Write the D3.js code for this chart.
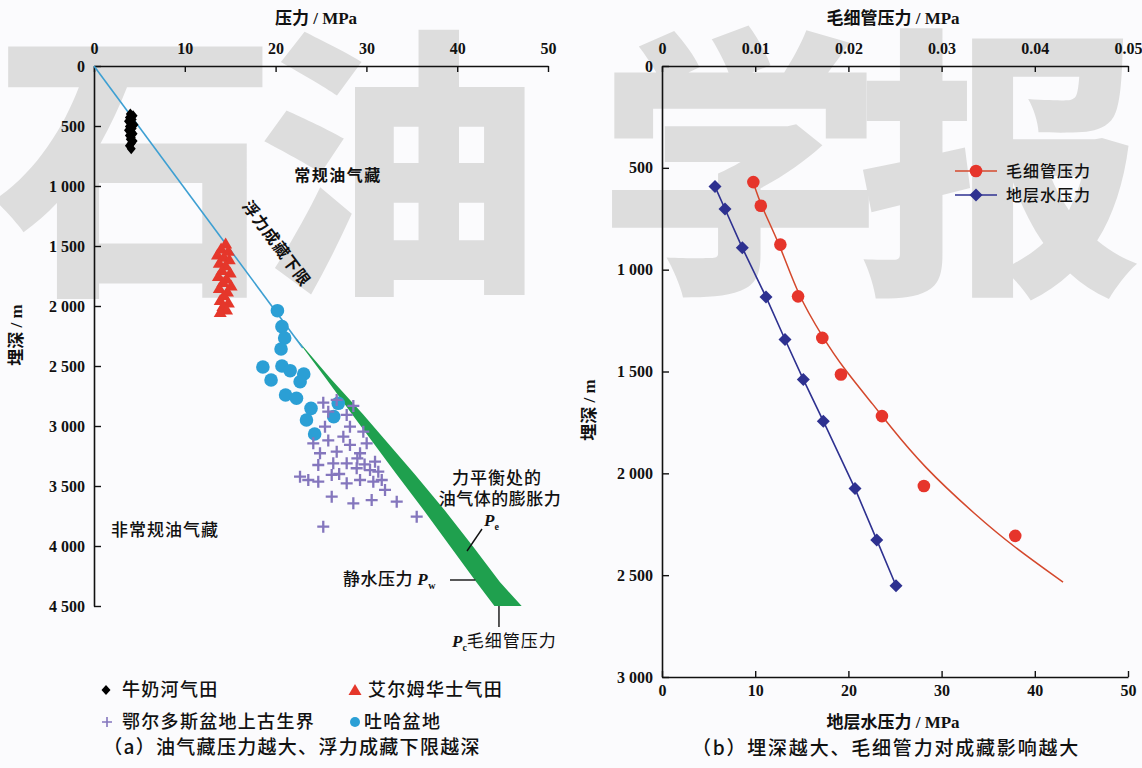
<!DOCTYPE html>
<html><head><meta charset="utf-8">
<script src="https://cdn.jsdelivr.net/npm/d3@7"></script>
<style>
html,body{margin:0;padding:0;background:#fbfbfd;}
svg{display:block;}
text{font-family:"Noto Sans CJK SC","Noto Sans",sans-serif;fill:#111;}
.num text,.num{font-family:"Liberation Serif","DejaVu Serif",serif;font-weight:bold;}
</style></head><body>
<svg id="c" width="1142" height="768"></svg>
<script>
// ---------- data ----------
const pressureTicks = [0, 10, 20, 30, 40, 50];
const depthTicksA = [0, 500, 1000, 1500, 2000, 2500, 3000, 3500, 4000, 4500];
const capTicks = [0, 0.01, 0.02, 0.03, 0.04, 0.05];
const waterTicks = [0, 10, 20, 30, 40, 50];
const depthTicksB = [0, 500, 1000, 1500, 2000, 2500, 3000];

// [pressure MPa, depth m]
const niunaihe = [[4.0,400],[4.3,415],[3.9,430],[4.2,445],[3.8,460],[4.1,475],[4.4,490],[3.9,505],[4.2,520],[3.8,535],[4.1,550],[4.3,565],[3.9,580],[4.1,595],[4.0,610],[4.3,625],[4.1,645],[3.9,665],[4.1,690]];
const aiermu = [[14.5,1480],[14.0,1520],[14.8,1540],[13.6,1570],[14.3,1590],[14.9,1610],[13.8,1640],[14.5,1660],[14.1,1700],[15.0,1720],[13.7,1750],[14.6,1770],[14.2,1800],[15.1,1830],[13.8,1850],[14.7,1880],[14.3,1910],[13.9,1950],[14.8,1970],[14.2,2000],[14.6,2030],[13.9,2050]];
const ordos = [[25.25,2806],[26.73,2783],[28.56,2833],[25.80,2881],[27.83,2908],[25.44,3006],[28.19,3006],[29.66,3047],[24.15,3144],[27.46,3089],[28.19,3158],[30.03,3144],[24.89,3227],[26.73,3214],[29.30,3227],[30.95,3297],[24.70,3325],[26.35,3311],[27.83,3311],[28.93,3352],[30.40,3367],[31.31,3381],[22.69,3422],[23.60,3450],[24.70,3464],[26.18,3408],[27.83,3478],[29.30,3450],[30.76,3464],[31.69,3450],[26.18,3589],[28.56,3644],[30.58,3617],[32.05,3533],[33.34,3631],[35.54,3756],[25.25,3839],[29.0,3270],[27.0,3400],[29.8,3320],[25.8,3120]];
const tuha = [[20.2,2039],[20.7,2172],[21.0,2267],[20.6,2358],[18.6,2508],[20.7,2500],[21.6,2539],[23.1,2567],[19.5,2617],[22.7,2631],[21.1,2742],[22.3,2769],[23.9,2853],[26.9,2811],[23.4,2950],[26.4,2922],[24.3,3067]];
const hydroLine = [[0,0],[23.0,2350]];
const wedgeDepth = [2250, 2600, 2900, 3400, 3700, 4000, 4300, 4500];
const wedgePw    = [22.05, 25.5, 28.4, 33.3, 36.3, 39.2, 42.1, 44.1];
const wedgePe    = [22.05, 26.0, 29.6, 35.3, 38.6, 41.7, 44.7, 47.1];

const capPressure = [0.0098,0.0106,0.0127,0.0146,0.0172,0.0192,0.0236,0.0281,0.0379];
const capDepth    = [570,686,877,1131,1335,1515,1719,2062,2307];
const capFitPressure = [0.00976,0.01062,0.01266,0.01459,0.01727,0.01931,0.02307,0.02414,0.0280,0.0338,0.03766,0.04303];
const capFitDepth    = [569,686,877,1127,1333,1475,1686,1750,1966,2211,2358,2534];
const waterPressure = [5.69,6.76,8.62,11.16,13.2,15.16,17.31,20.71,23.04,25.11];
const waterDepth    = [592,702,893,1134,1343,1539,1744,2075,2327,2552];

const watermark = ["石","油","学","报"];

// ---------- setup ----------
const svg = d3.select("#c");
const fmt = d3.formatLocale({decimal:".", thousands:" ", grouping:[3], currency:["",""]}).format(",");

// watermark
const wmX = [135, 398, 740, 1000];
svg.append("g").selectAll("text").data(watermark).join("text")
  .attr("x",(d,i)=>wmX[i]).attr("y",272).attr("text-anchor","middle")
  .style("font-size","285px").style("font-weight","900").style("fill","#dddddd")
  .text(d=>d);

const xL = d3.scaleLinear([0,50],[94,548]);
const yL = d3.scaleLinear([0,4500],[66,606]);
const xRb = d3.scaleLinear([0,50],[662,1128]);
const xRt = d3.scaleLinear([0,0.05],[662,1128]);
const yR = d3.scaleLinear([0,3000],[66,677]);

function styleAxis(g){
  g.attr("class","num");
  g.select(".domain").attr("stroke","#111").attr("stroke-width",1.6);
  g.selectAll(".tick line").attr("stroke","#111").attr("stroke-width",1.4);
  g.selectAll(".tick text").style("font-size","16px").attr("fill","#111");
}

// ---------- chart a ----------
const gA = svg.append("g");
gA.append("g").attr("transform","translate(0,66)")
  .call(d3.axisTop(xL).tickValues(pressureTicks).tickSize(-6).tickSizeOuter(0).tickPadding(12)).call(styleAxis);
gA.append("g").attr("transform","translate(94,0)")
  .call(d3.axisLeft(yL).tickValues(depthTicksA).tickSize(-7).tickSizeOuter(0).tickPadding(9).tickFormat(fmt)).call(styleAxis);

// wedge
const wedgePts = wedgeDepth.map((d,i)=>[wedgePw[i],d]).concat(wedgeDepth.map((d,i)=>[wedgePe[i],d]).reverse());
gA.append("path").attr("d", d3.line().x(d=>xL(d[0])).y(d=>yL(d[1]))(wedgePts)+"Z")
  .attr("fill","#1fa04e");
gA.append("path").attr("d", d3.line().x(d=>xL(d[0])).y(d=>yL(d[1]))(hydroLine))
  .attr("stroke","#3d9fd2").attr("stroke-width",1.6).attr("fill","none");

// black diamonds
gA.append("g").selectAll("path").data(niunaihe).join("path")
  .attr("transform",d=>`translate(${xL(d[0])},${yL(d[1])})`)
  .attr("d","M0,-5.5L4.5,0L0,5.5L-4.5,0Z").attr("fill","#000");
// red triangles
gA.append("g").selectAll("path").data(aiermu).join("path")
  .attr("transform",d=>`translate(${xL(d[0])},${yL(d[1])})`)
  .attr("d","M0,-6L6.5,5L-6.5,5Z").attr("fill","#e5372b");
// tuha circles
gA.append("g").selectAll("circle").data(tuha).join("circle")
  .attr("cx",d=>xL(d[0])).attr("cy",d=>yL(d[1])).attr("r",6.8).attr("fill","#2b9fd5");
// ordos crosses
gA.append("g").selectAll("path").data(ordos).join("path")
  .attr("transform",d=>`translate(${xL(d[0])},${yL(d[1])})`)
  .attr("d","M-6,0H6M0,-6V6").attr("stroke","#8476bd").attr("stroke-width",2.3);

// annotations
function cjk(g,x,y,str,size,opts={}){
  const t=g.append("text").attr("x",x).attr("y",y).text(str).style("font-size",size+"px")
    .attr("text-anchor",opts.anchor||"middle").style("font-weight",opts.weight||"500");
  if(opts.ls) t.style("letter-spacing",opts.ls+"px");
  if(opts.rot) t.attr("transform",`rotate(${opts.rot},${x},${y})`);
  return t;
}
function pSym(t,sub){
  t.append("tspan").text("P").style("font-family","Liberation Serif,serif").style("font-style","italic").style("font-weight","bold");
  t.append("tspan").text(sub).attr("dy",4).style("font-size","10px").style("font-family","Liberation Serif,serif").style("font-weight","bold");
}
cjk(gA,338,181,"常规油气藏",16,{ls:1.5,weight:"700"});
const ang = Math.atan2(yL(4500)-yL(0), xL(44.1)-xL(0))*180/Math.PI;
cjk(gA,272,247,"浮力成藏下限",16,{ls:1,weight:"700",rot:ang});
cjk(gA,165,536,"非常规油气藏",17,{ls:1});
cjk(gA,497,484,"力平衡处的",17,{ls:1});
cjk(gA,500,505,"油气体的膨胀力",17,{ls:0.5});
const pe = gA.append("text").attr("x",484).attr("y",526).attr("text-anchor","start").style("font-size","17px");
pSym(pe,"e");
gA.append("line").attr("x1",482).attr("y1",529).attr("x2",467).attr("y2",551).attr("stroke","#111").attr("stroke-width",1.4);
const pw = cjk(gA,343,585,"静水压力 ",17,{anchor:"start",ls:0.5});
pSym(pw,"w");
gA.append("line").attr("x1",450).attr("y1",580).attr("x2",xL(42.0)).attr("y2",580).attr("stroke","#111").attr("stroke-width",1.4);
gA.append("line").attr("x1",xL(44.6)).attr("y1",yL(4500)).attr("x2",xL(44.6)).attr("y2",627).attr("stroke","#111").attr("stroke-width",1.4);
const pc = gA.append("text").attr("x",452).attr("y",647).attr("text-anchor","start").style("font-size","17px");
pSym(pc,"c");
pc.append("tspan").text("毛细管压力").attr("dy",-4).style("letter-spacing","1px");

// axis titles a
const tA = gA.append("text").attr("x",316).attr("y",24).attr("text-anchor","middle").style("font-size","17px").style("font-weight","700");
tA.append("tspan").text("压力");
tA.append("tspan").text(" / MPa").style("font-family","Liberation Serif,serif");
const yA = gA.append("text").attr("transform","translate(22,335) rotate(-90)").attr("text-anchor","middle").style("font-size","17px").style("font-weight","700");
yA.append("tspan").text("埋深");
yA.append("tspan").text(" / m").style("font-family","Liberation Serif,serif");

// legend a
const lg = gA.append("g");
lg.append("path").attr("transform","translate(106,690)").attr("d","M0,-5L4.5,0L0,5L-4.5,0Z").attr("fill","#000");
cjk(lg,122,696,"牛奶河气田",18,{anchor:"start",ls:1.3});
lg.append("path").attr("transform","translate(355,690)").attr("d","M0,-6L6.5,5L-6.5,5Z").attr("fill","#e5372b");
cjk(lg,368,696,"艾尔姆华士气田",18,{anchor:"start",ls:1.3});
lg.append("path").attr("transform","translate(107,722)").attr("d","M-5,0H5M0,-5V5").attr("stroke","#8476bd").attr("stroke-width",1.6);
cjk(lg,122,728,"鄂尔多斯盆地上古生界",18,{anchor:"start",ls:1.3});
lg.append("circle").attr("cx",355).attr("cy",722).attr("r",5).attr("fill","#2b9fd5");
cjk(lg,364,728,"吐哈盆地",18,{anchor:"start",ls:1.3});
cjk(lg,292,754,"（a）油气藏压力越大、浮力成藏下限越深",19,{ls:1.3});

// ---------- chart b ----------
const gB = svg.append("g");
gB.append("g").attr("transform","translate(0,66)")
  .call(d3.axisTop(xRt).tickValues(capTicks).tickSize(-6).tickSizeOuter(0).tickPadding(12).tickFormat(d=>d===0?"0":d3.format(".2f")(d))).call(styleAxis);
gB.append("g").attr("transform","translate(662,0)")
  .call(d3.axisLeft(yR).tickValues(depthTicksB).tickSize(-7).tickSizeOuter(0).tickPadding(9).tickFormat(fmt)).call(styleAxis);
gB.append("g").attr("transform","translate(0,677)")
  .call(d3.axisBottom(xRb).tickValues(waterTicks).tickSize(-6).tickSizeOuter(0).tickPadding(8)).call(styleAxis);

// capillary fit curve
const fitPts = capFitDepth.map((d,i)=>[capFitPressure[i],d]);
gB.append("path").attr("d", d3.line().x(d=>xRt(d[0])).y(d=>yR(d[1])).curve(d3.curveBasis)(fitPts))
  .attr("fill","none").attr("stroke","#d4482c").attr("stroke-width",1.5);
// water line
const wPts = waterDepth.map((d,i)=>[waterPressure[i],d]);
gB.append("path").attr("d", d3.line().x(d=>xRb(d[0])).y(d=>yR(d[1]))(wPts))
  .attr("fill","none").attr("stroke","#2e3190").attr("stroke-width",1.6);
gB.append("g").selectAll("circle").data(capDepth.map((d,i)=>[capPressure[i],d])).join("circle")
  .attr("cx",d=>xRt(d[0])).attr("cy",d=>yR(d[1])).attr("r",6.3).attr("fill","#e6352b");
gB.append("g").selectAll("path").data(wPts).join("path")
  .attr("transform",d=>`translate(${xRb(d[0])},${yR(d[1])})`)
  .attr("d","M0,-6.5L6.5,0L0,6.5L-6.5,0Z").attr("fill","#2e3190");

// legend b
const lb = gB.append("g");
lb.append("line").attr("x1",955).attr("x2",997).attr("y1",171).attr("y2",171).attr("stroke","#d4482c").attr("stroke-width",1.6);
lb.append("circle").attr("cx",976).attr("cy",171).attr("r",6.3).attr("fill","#e6352b");
cjk(lb,1006,177,"毛细管压力",16,{anchor:"start",ls:1});
lb.append("line").attr("x1",955).attr("x2",997).attr("y1",195).attr("y2",195).attr("stroke","#2e3190").attr("stroke-width",1.6);
lb.append("path").attr("transform","translate(976,195)").attr("d","M0,-6.5L6.5,0L0,6.5L-6.5,0Z").attr("fill","#2e3190");
cjk(lb,1006,201,"地层水压力",16,{anchor:"start",ls:1});

// titles b
const tB = gB.append("text").attr("x",893).attr("y",24).attr("text-anchor","middle").style("font-size","17px").style("font-weight","700");
tB.append("tspan").text("毛细管压力");
tB.append("tspan").text(" / MPa").style("font-family","Liberation Serif,serif");
const bB = gB.append("text").attr("x",893).attr("y",728).attr("text-anchor","middle").style("font-size","17px").style("font-weight","700");
bB.append("tspan").text("地层水压力");
bB.append("tspan").text(" / MPa").style("font-family","Liberation Serif,serif");
const yB = gB.append("text").attr("transform","translate(595,410) rotate(-90)").attr("text-anchor","middle").style("font-size","17px").style("font-weight","700");
yB.append("tspan").text("埋深");
yB.append("tspan").text(" / m").style("font-family","Liberation Serif,serif");
cjk(gB,886,755,"（b）埋深越大、毛细管力对成藏影响越大",19,{ls:1.8});
</script>
</body></html>
